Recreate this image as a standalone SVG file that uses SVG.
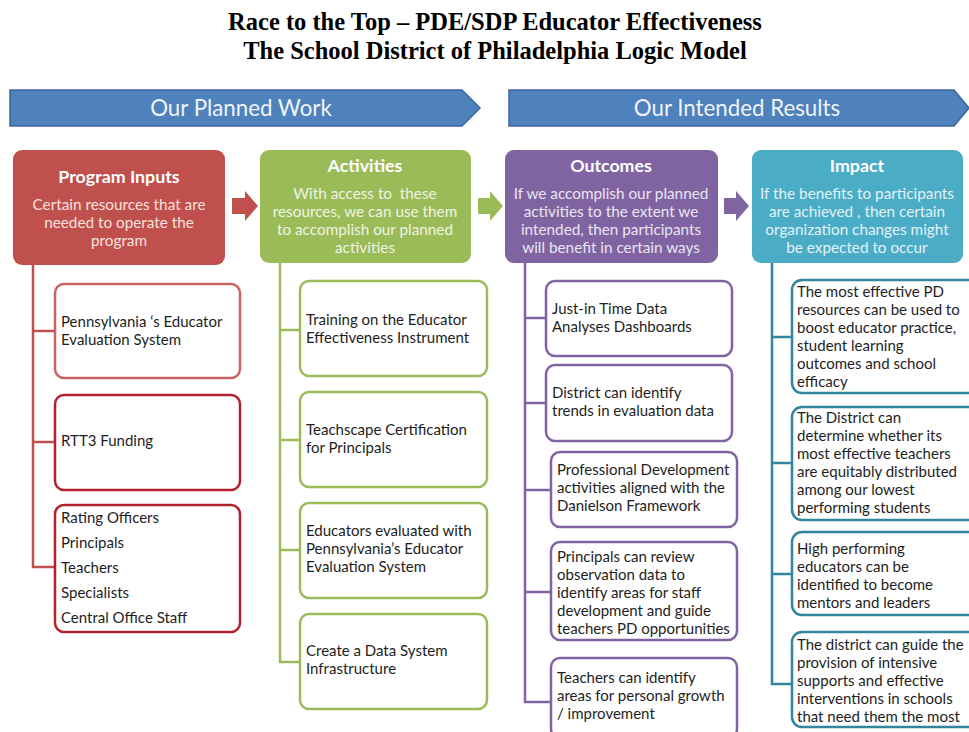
<svg xmlns="http://www.w3.org/2000/svg" width="969" height="732" viewBox="0 0 969 732">
<style>
.title{font-family:"Liberation Serif",serif;font-weight:bold;font-size:24.5px;fill:#000;text-anchor:middle}
.banner{fill:#4F81BD;stroke:#3A679C;stroke-width:1.5}
.btxt{font-family:Lato,"Open Sans",sans-serif;font-size:22.3px;fill:#EEF3FA;text-anchor:middle}
.htitle{font-family:Lato,"Open Sans",sans-serif;font-weight:bold;font-size:17.8px;fill:#fff;text-anchor:middle}
.hsub{font-family:Lato,"Open Sans",sans-serif;font-size:15.3px;text-anchor:middle}
.ctxt{font-family:Lato,"Open Sans",sans-serif;font-size:15px;fill:#1e1e1e}
.box{fill:#fff;stroke-width:2.5}
.conn{fill:none;stroke-width:2.5}
</style>
<rect width="969" height="732" fill="#fff"/>
<g id="title">
<text class="title" x="495" y="30">Race to the Top – PDE/SDP Educator Effectiveness</text>
<text class="title" x="495" y="59">The School District of Philadelphia Logic Model</text>
</g>
<g id="banner-planned">
<polygon class="banner" points="10,90 462,90 480,108 462,126 10,126"/>
<text class="btxt" x="241" y="116">Our Planned Work</text>
</g>
<g id="banner-results">
<polygon class="banner" points="509,90 954,90 969,108 954,126 509,126"/>
<text class="btxt" x="737" y="116">Our Intended Results</text>
</g>
<g id="connectors">
<polygon points="232,198 245,198 245,191 258,206 245,221 245,214 232,214" fill="#C0504D"/>
<polygon points="478,198 490,198 490,191 503,206 490,221 490,214 478,214" fill="#9BBB59"/>
<polygon points="724,198 736,198 736,191 749,206 736,221 736,214 724,214" fill="#8064A2"/>
<path class="conn" stroke="#C0504D" d="M33,265 V567 H55 M33,331 H55 M33,442 H55"/>
<path class="conn" stroke="#9BBB59" d="M280,263 V662 H300 M280,330 H300 M280,440 H300 M280,550 H300"/>
<path class="conn" stroke="#8064A2" d="M525,263 V702 H551 M525,318 H546 M525,403 H546 M525,490 H551 M525,592 H551"/>
<path class="conn" stroke="#31859C" d="M772,263 V684 H792 M772,337 H792 M772,463 H792 M772,574 H792"/>
</g>
<g id="program-inputs">
<rect x="13" y="150" width="212" height="115" rx="9" fill="#C0504D"/>
<text class="htitle" x="119" y="183">Program Inputs</text>
<text class="hsub" fill="#F7E0DF" x="119" y="210">Certain resources that are</text>
<text class="hsub" fill="#F7E0DF" x="119" y="228">needed to operate the</text>
<text class="hsub" fill="#F7E0DF" x="119" y="246">program</text>
</g>
<g id="input-1">
<rect class="box" stroke="#C96462" x="55" y="284" width="185" height="94" rx="9"/>
<text class="ctxt" x="61" y="327">Pennsylvania ‘s Educator</text>
<text class="ctxt" x="61" y="345">Evaluation System</text>
</g>
<g id="input-2">
<rect class="box" stroke="#B3212E" x="55" y="395" width="185" height="95" rx="9"/>
<text class="ctxt" x="61" y="446">RTT3 Funding</text>
</g>
<g id="input-3">
<rect class="box" stroke="#B3212E" x="55" y="505" width="185" height="127" rx="9"/>
<text class="ctxt" x="61" y="523">Rating Officers</text>
<text class="ctxt" x="61" y="548">Principals</text>
<text class="ctxt" x="61" y="573">Teachers</text>
<text class="ctxt" x="61" y="598">Specialists</text>
<text class="ctxt" x="61" y="623">Central Office Staff</text>
</g>
<g id="activities">
<rect x="260" y="150" width="211" height="113" rx="9" fill="#9BBB59"/>
<text class="htitle" x="365" y="172">Activities</text>
<text class="hsub" fill="#EEF4E2" x="365" y="199" xml:space="preserve">With access to  these</text>
<text class="hsub" fill="#EEF4E2" x="365" y="217">resources, we can use them</text>
<text class="hsub" fill="#EEF4E2" x="365" y="235">to accomplish our planned</text>
<text class="hsub" fill="#EEF4E2" x="365" y="253">activities</text>
</g>
<g id="activity-1">
<rect class="box" stroke="#9BBB59" x="300" y="281" width="187" height="95" rx="9"/>
<text class="ctxt" x="306" y="325">Training on the Educator</text>
<text class="ctxt" x="306" y="343">Effectiveness Instrument</text>
</g>
<g id="activity-2">
<rect class="box" stroke="#9BBB59" x="300" y="392" width="187" height="95" rx="9"/>
<text class="ctxt" x="306" y="435">Teachscape Certification</text>
<text class="ctxt" x="306" y="453">for Principals</text>
</g>
<g id="activity-3">
<rect class="box" stroke="#9BBB59" x="300" y="503" width="187" height="95" rx="9"/>
<text class="ctxt" x="306" y="536">Educators evaluated with</text>
<text class="ctxt" x="306" y="554">Pennsylvania’s Educator</text>
<text class="ctxt" x="306" y="572">Evaluation System</text>
</g>
<g id="activity-4">
<rect class="box" stroke="#9BBB59" x="300" y="614" width="187" height="95" rx="9"/>
<text class="ctxt" x="306" y="656">Create a Data System</text>
<text class="ctxt" x="306" y="674">Infrastructure</text>
</g>
<g id="outcomes">
<rect x="505" y="150" width="213" height="113" rx="9" fill="#8064A2"/>
<text class="htitle" x="611" y="172">Outcomes</text>
<text class="hsub" fill="#EAE4F1" x="611" y="199">If we accomplish our planned</text>
<text class="hsub" fill="#EAE4F1" x="611" y="217">activities to the extent we</text>
<text class="hsub" fill="#EAE4F1" x="611" y="235">intended, then participants</text>
<text class="hsub" fill="#EAE4F1" x="611" y="253">will benefit in certain ways</text>
</g>
<g id="outcome-1">
<rect class="box" stroke="#8064A2" x="546" y="281" width="186" height="75" rx="9"/>
<text class="ctxt" x="552" y="314">Just-in Time Data</text>
<text class="ctxt" x="552" y="332">Analyses Dashboards</text>
</g>
<g id="outcome-2">
<rect class="box" stroke="#8064A2" x="546" y="365" width="186" height="76" rx="9"/>
<text class="ctxt" x="552" y="398">District can identify</text>
<text class="ctxt" x="552" y="416">trends in evaluation data</text>
</g>
<g id="outcome-3">
<rect class="box" stroke="#8064A2" x="551" y="452" width="186" height="75" rx="9"/>
<text class="ctxt" x="557" y="475">Professional Development</text>
<text class="ctxt" x="557" y="493">activities aligned with the</text>
<text class="ctxt" x="557" y="511">Danielson Framework</text>
</g>
<g id="outcome-4">
<rect class="box" stroke="#8064A2" x="551" y="542" width="186" height="98" rx="9"/>
<text class="ctxt" x="557" y="562">Principals can review</text>
<text class="ctxt" x="557" y="580">observation data to</text>
<text class="ctxt" x="557" y="598">identify areas for staff</text>
<text class="ctxt" x="557" y="616">development and guide</text>
<text class="ctxt" x="557" y="634">teachers PD opportunities</text>
</g>
<g id="outcome-5">
<rect class="box" stroke="#8064A2" x="551" y="658" width="186" height="80" rx="9"/>
<text class="ctxt" x="557" y="683">Teachers can identify</text>
<text class="ctxt" x="557" y="701">areas for personal growth</text>
<text class="ctxt" x="557" y="719">/ improvement</text>
</g>
<g id="impact">
<rect x="752" y="150" width="211" height="113" rx="9" fill="#4BACC6"/>
<text class="htitle" x="857" y="172">Impact</text>
<text class="hsub" fill="#E2F2F7" x="857" y="199">If the benefits to participants</text>
<text class="hsub" fill="#E2F2F7" x="857" y="217">are achieved , then certain</text>
<text class="hsub" fill="#E2F2F7" x="857" y="235">organization changes might</text>
<text class="hsub" fill="#E2F2F7" x="857" y="253">be expected to occur</text>
</g>
<g id="impact-1">
<rect class="box" stroke="#31859C" x="792" y="280" width="190" height="113" rx="10"/>
<text class="ctxt" x="797" y="297">The most effective PD</text>
<text class="ctxt" x="797" y="315">resources can be used to</text>
<text class="ctxt" x="797" y="333">boost educator practice,</text>
<text class="ctxt" x="797" y="351">student learning</text>
<text class="ctxt" x="797" y="369">outcomes and school</text>
<text class="ctxt" x="797" y="387">efficacy</text>
</g>
<g id="impact-2">
<rect class="box" stroke="#31859C" x="792" y="407" width="190" height="113" rx="10"/>
<text class="ctxt" x="797" y="423">The District can</text>
<text class="ctxt" x="797" y="441">determine whether its</text>
<text class="ctxt" x="797" y="459">most effective teachers</text>
<text class="ctxt" x="797" y="477">are equitably distributed</text>
<text class="ctxt" x="797" y="495">among our lowest</text>
<text class="ctxt" x="797" y="513">performing students</text>
</g>
<g id="impact-3">
<rect class="box" stroke="#31859C" x="792" y="532" width="190" height="83" rx="10"/>
<text class="ctxt" x="797" y="554">High performing</text>
<text class="ctxt" x="797" y="572">educators can be</text>
<text class="ctxt" x="797" y="590">identified to become</text>
<text class="ctxt" x="797" y="608">mentors and leaders</text>
</g>
<g id="impact-4">
<rect class="box" stroke="#31859C" x="792" y="632" width="190" height="95" rx="10"/>
<text class="ctxt" x="797" y="650">The district can guide the</text>
<text class="ctxt" x="797" y="668">provision of intensive</text>
<text class="ctxt" x="797" y="686">supports and effective</text>
<text class="ctxt" x="797" y="704">interventions in schools</text>
<text class="ctxt" x="797" y="722">that need them the most</text>
</g>
</svg>
